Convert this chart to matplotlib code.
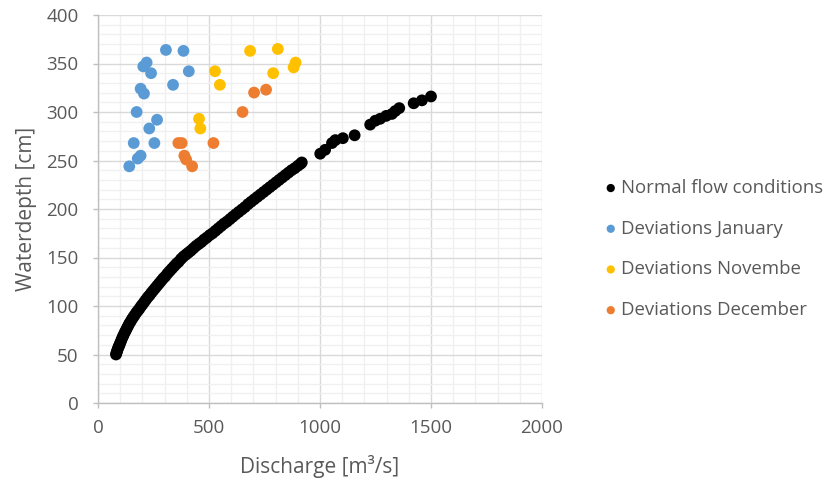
import matplotlib
matplotlib.use("Agg")
import matplotlib.pyplot as plt
from matplotlib.ticker import MultipleLocator

# ---------------- data ----------------
normal_q = [81, 83, 86, 88, 91, 94, 97, 100, 104, 108, 112, 116, 121, 126, 131, 136,
            141, 147, 153, 159, 165, 172, 179, 186, 193, 200, 208, 216, 224, 232, 240,
            249, 258, 267, 276, 285, 294, 303, 313, 323, 333, 343, 353, 363, 374, 385,
            396, 407, 418, 430, 442, 454, 466, 478, 490, 503, 516, 529, 542, 555, 568,
            581, 594, 607, 620, 634, 648, 662, 676, 690, 704, 718, 732, 746, 760, 774,
            788, 802, 816, 830, 844, 858, 872, 886, 900, 912, 918,
            1001, 1023, 1054, 1069, 1103, 1156, 1226, 1249, 1271, 1298, 1324, 1339,
            1357, 1422, 1459, 1500]
normal_h = [50, 51.5, 53.5, 55, 57, 58.5, 60, 62, 64, 66.5, 68.5, 70.5, 73, 75, 77.5, 79.5,
            82, 84, 86.5, 88.5, 90.5, 93, 95, 97, 99.5, 101.5, 104, 106.5, 109, 111, 113.5,
            116, 118.5, 121, 123.5, 126, 128.5, 130.5, 133.5, 136, 138.5, 141, 143.5, 145.5,
            148.5, 151, 153, 155, 157, 159.5, 162, 164, 166, 168.5, 170.5, 173, 175, 177.5,
            180, 182.5, 185, 187, 189.5, 192, 194.5, 197, 199.5, 202, 205, 207.5, 210, 212.5,
            215, 217.5, 220, 222.5, 225, 227.5, 230, 232.5, 235, 237.5, 240, 242, 244.5,
            246.5, 248,
            257, 261, 268, 271, 273, 276, 287, 291, 293, 296, 298, 301, 304, 309, 312, 316]

jan_q = [306, 385, 219, 204, 239, 409, 338, 192, 207, 174, 266, 231, 161, 254, 192, 179, 141]
jan_h = [364, 363, 351, 347, 340, 342, 328, 324, 319, 300, 292, 283, 268, 268, 255, 252, 244]

nov_q = [685, 810, 890, 881, 789, 527, 549, 455, 461]
nov_h = [363, 365, 351, 346, 340, 342, 328, 293, 283]

dec_q = [362, 377, 520, 389, 397, 424, 651, 703, 757]
dec_h = [268, 268, 268, 255, 251, 244, 300, 320, 323]

series_labels = ["Normal flow conditions", "Deviations January",
                 "Deviations Novembe", "Deviations December"]
series_colors = ["#000000", "#5B9BD5", "#FFC000", "#ED7D31"]

x_label = "Discharge [m\u00b3/s]"
y_label = "Waterdepth [cm]"

# ---------------- figure ----------------
plt.rcParams['font.family'] = ['Open Sans', 'DejaVu Sans']
text_color = "#595959"

fig = plt.figure(figsize=(8.30, 4.83), dpi=100)
ax = fig.add_axes([98 / 830, 1 - 403 / 483, (542 - 98) / 830, (403 - 15) / 483])

ms = 72
data = [(normal_q, normal_h), (jan_q, jan_h), (nov_q, nov_h), (dec_q, dec_h)]
for (q, h), lab, col in zip(data, series_labels, series_colors):
    ax.scatter(q, h, s=ms, c=col, label=lab, edgecolors='none', zorder=3, clip_on=False)

ax.set_xlim(0, 2000)
ax.set_ylim(0, 400)
ax.xaxis.set_major_locator(MultipleLocator(500))
ax.xaxis.set_minor_locator(MultipleLocator(100))
ax.yaxis.set_major_locator(MultipleLocator(50))
ax.yaxis.set_minor_locator(MultipleLocator(10))

ax.grid(which='major', color='#d9d9d9', linewidth=1.0, zorder=0)
ax.grid(which='minor', color='#f0f0f0', linewidth=1.0, zorder=0)
ax.set_axisbelow(True)

for side in ['top', 'right']:
    ax.spines[side].set_visible(False)
for side in ['left', 'bottom']:
    ax.spines[side].set_color('#bfbfbf')
    ax.spines[side].set_linewidth(1.0)

ax.tick_params(axis='both', which='major', length=3.6, width=1.0, color='#bfbfbf',
               labelcolor=text_color, labelsize=13.5)
ax.tick_params(axis='y', which='major', pad=10.5)
ax.tick_params(axis='x', which='major', pad=8)
ax.tick_params(axis='both', which='minor', length=0)

ax.set_xlabel(x_label, fontsize=15, color=text_color, va='center')
ax.set_ylabel(y_label, fontsize=15, color=text_color, va='center')
ax.xaxis.set_label_coords(0.5, (403 - 466) / 388)
ax.yaxis.set_label_coords((26 - 98) / 444, 0.5)

leg = fig.legend(loc='center left', bbox_to_anchor=(594 / 830, 1 - 249 / 483),
                 frameon=False, fontsize=13.4, labelspacing=1.22, handletextpad=0.05,
                 markerscale=0.7, borderaxespad=0, handlelength=1.0)
for t in leg.get_texts():
    t.set_color(text_color)

fig.savefig("out.png", dpi=100)
